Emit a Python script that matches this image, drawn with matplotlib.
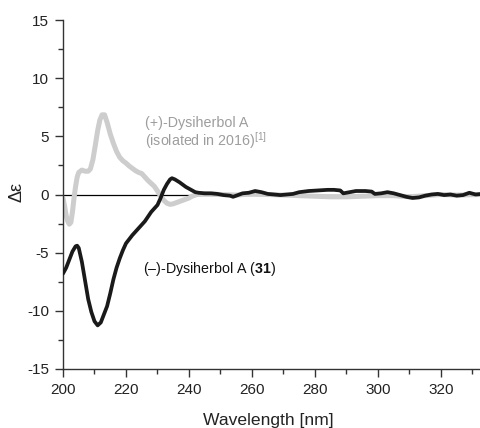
import matplotlib
matplotlib.use("Agg")
import matplotlib.pyplot as plt
from matplotlib.ticker import MultipleLocator

plt.rcParams['font.family'] = ['Liberation Sans', 'DejaVu Sans']
plt.rcParams['mathtext.fontset'] = 'custom'
plt.rcParams['mathtext.rm'] = 'Liberation Sans'
plt.rcParams['mathtext.bf'] = 'Liberation Sans:bold'
plt.rcParams['axes.unicode_minus'] = False

# (-)-Dysiherbol A (31), black curve
wl_black = [200, 201, 202, 203, 204, 204.5, 205, 206, 207, 208, 209, 210, 211, 212, 213, 214,
            215, 216, 217, 218, 219, 220, 221, 222, 223, 224, 225, 226, 227, 228, 229, 230,
            231, 232, 233, 234, 234.6, 235.5, 237, 238, 239, 240, 241, 242, 243, 245, 247,
            249, 251, 253, 254, 255, 257, 259, 261, 263, 265, 267, 269, 271, 273, 275, 278,
            281, 284, 286, 288, 289, 291, 293, 296, 298, 299, 301, 303, 305, 307, 309, 311,
            313, 315, 317, 319, 321, 323, 325, 327, 329, 331, 333]
de_black = [-6.8, -6.3, -5.6, -4.9, -4.45, -4.4, -4.6, -5.8, -7.4, -9.0, -10.1, -10.9, -11.25,
            -11.0, -10.3, -9.6, -8.5, -7.3, -6.3, -5.5, -4.8, -4.2, -3.85, -3.5, -3.2, -2.9,
            -2.6, -2.3, -1.9, -1.5, -1.2, -0.9, -0.3, 0.4, 0.9, 1.3, 1.4, 1.3, 1.05, 0.85,
            0.65, 0.5, 0.35, 0.2, 0.15, 0.1, 0.1, 0.05, -0.05, -0.1, -0.2, -0.1, 0.1, 0.15,
            0.3, 0.2, 0.05, 0.0, -0.05, 0.0, 0.05, 0.2, 0.3, 0.35, 0.4, 0.4, 0.35, 0.1, 0.2,
            0.3, 0.3, 0.25, 0.05, 0.1, 0.2, 0.1, -0.05, -0.2, -0.3, -0.25, -0.1, 0.0, 0.05,
            -0.05, 0.0, -0.1, -0.05, 0.15, 0.0, 0.05]

# (+)-Dysiherbol A (isolated in 2016), grey curve
wl_grey = [200, 200.5, 201, 201.5, 202, 202.5, 203, 203.5, 204, 204.5, 205, 206, 207, 208,
           208.7, 209.5, 210.3, 211, 211.7, 212.4, 213.2, 214, 215, 216, 217, 218, 219, 220,
           221, 222, 223, 224, 225, 226, 227, 228, 229, 230, 231, 232, 233, 234, 235, 236,
           237, 238, 239, 240, 241, 242.5, 245, 250, 255, 260, 265, 270, 275, 280, 285, 290,
           295, 300, 305, 310, 315, 320, 325, 333]
de_grey = [-0.3, -1.0, -1.8, -2.3, -2.55, -2.4, -1.5, -0.3, 0.7, 1.5, 1.9, 2.1, 2.0, 2.0,
           2.2, 3.0, 4.3, 5.5, 6.4, 6.85, 6.85, 6.2, 5.2, 4.4, 3.7, 3.2, 2.9, 2.7, 2.45, 2.25,
           2.05, 1.9, 1.8, 1.5, 1.2, 0.95, 0.7, 0.3, -0.15, -0.5, -0.75, -0.85, -0.8, -0.7,
           -0.6, -0.5, -0.4, -0.3, -0.15, 0.0, 0.05, 0.0, -0.05, 0.05, 0.0, -0.05, -0.1,
           -0.15, -0.2, -0.2, -0.15, -0.1, -0.1, -0.2, -0.1, 0.0, -0.05, 0.0]

x_ticks = [200, 220, 240, 260, 280, 300, 320]
y_ticks = [-15, -10, -5, 0, 5, 10, 15]

fig = plt.figure(figsize=(4.81, 4.28), dpi=100)
ax = fig.add_axes([63/481, 59/428, 1 - 63/481, 349/428])

ax.axhline(0, color='black', lw=0.9, zorder=1)
ax.plot(wl_grey, de_grey, color='#cdcdcd', lw=3.6, solid_joinstyle='round',
        solid_capstyle='round', zorder=2)
ax.plot(wl_black, de_black, color='#1a1a1a', lw=2.7, solid_joinstyle='round',
        solid_capstyle='round', zorder=3)

ax.set_xlim(200, 332.7)
ax.set_ylim(-15, 15)
ax.set_xticks(x_ticks)
ax.set_yticks(y_ticks)
ax.xaxis.set_minor_locator(MultipleLocator(10))
ax.yaxis.set_minor_locator(MultipleLocator(2.5))

for s in ['top', 'right']:
    ax.spines[s].set_visible(False)
for s in ['left', 'bottom']:
    ax.spines[s].set_color('#333333')
    ax.spines[s].set_linewidth(1.0)

ax.tick_params(which='major', direction='out', length=6, width=1, color='#333333',
               labelsize=11, labelcolor='#222222', pad=4)
ax.tick_params(which='minor', direction='out', length=3.5, width=1, color='#333333')

fig.text(268/481, (428-420)/428, 'Wavelength [nm]', fontsize=12.6, color='#222222',
         ha='center', va='center')
fig.text(17/481, (428-192)/428, 'Δε', fontsize=13, color='#222222',
         ha='center', va='center', rotation=90)

fig.text(145/481, (428-123)/428, '(+)-Dysiherbol A',
         fontsize=10.3, color='#9d9d9d', va='center', ha='left')
fig.text(145/481, (428-141)/428, r'(isolated in 2016)$^{\mathregular{[1]}}$',
         fontsize=10.3, color='#9d9d9d', va='center', ha='left')
fig.text(143/481, (428-269)/428, r'(–)-Dysiherbol A ($\mathbf{31}$)',
         fontsize=10.3, color='#111111', va='center', ha='left')

fig.savefig('out.png', dpi=100)
